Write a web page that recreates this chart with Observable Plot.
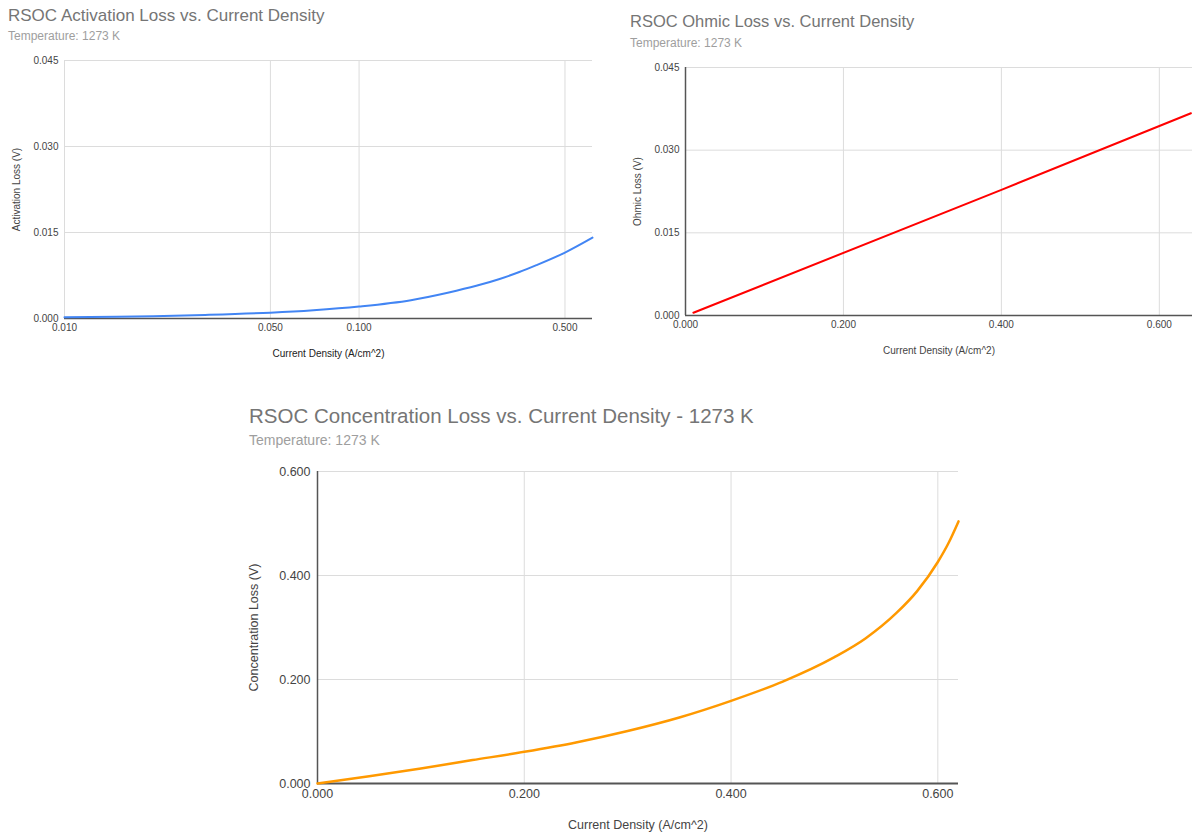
<!DOCTYPE html>
<html>
<head>
<meta charset="utf-8">
<script src="https://cdn.jsdelivr.net/npm/d3@7"></script>
<script src="https://cdn.jsdelivr.net/npm/@observablehq/plot@0.6"></script>
<style>
  body { margin: 0; background: #fff; font-family: Arial, "Liberation Sans", sans-serif; }
  #wrap { position: relative; width: 1192px; height: 834px; overflow: hidden; }
  .title { position: absolute; color: #757575; white-space: nowrap; }
  .sub { position: absolute; color: #9e9e9e; white-space: nowrap; }
  .chart { position: absolute; }
  .chart svg { overflow: visible; }
</style>
</head>
<body>
<div id="wrap">
  <div class="title" style="left:8px; top:6px; font-size:17px;">RSOC Activation Loss vs. Current Density</div>
  <div class="sub" style="left:8px; top:29px; font-size:12px;">Temperature: 1273 K</div>
  <div class="title" style="left:630px; top:12px; font-size:16.5px;">RSOC Ohmic Loss vs. Current Density</div>
  <div class="sub" style="left:630px; top:36px; font-size:12px;">Temperature: 1273 K</div>
  <div class="title" style="left:249px; top:404px; font-size:20.5px;">RSOC Concentration Loss vs. Current Density - 1273 K</div>
  <div class="sub" style="left:249px; top:432px; font-size:14px;">Temperature: 1273 K</div>
  <div class="chart" id="c1" style="left:0px; top:0px;"></div>
  <div class="chart" id="c2" style="left:620px; top:0px;"></div>
  <div class="chart" id="c3" style="left:240px; top:390px;"></div>
</div>
<script>
// Activation loss (log x)
const actX = [0.01, 0.015, 0.02, 0.03, 0.05, 0.07, 0.1, 0.15, 0.2, 0.25, 0.3, 0.35, 0.4, 0.5, 0.62];
const actY = [0.0002, 0.0003, 0.0004, 0.00062, 0.00102, 0.00145, 0.0021, 0.0032, 0.0045, 0.0057, 0.0069, 0.0081, 0.0093, 0.0115, 0.0141];
const actXTicks = [0.01, 0.05, 0.1, 0.5];
const lossTicks = [0, 0.015, 0.03, 0.045];

// Ohmic loss
const ohmX = [0.01, 0.4, 0.64];
const ohmY = [0.0005, 0.0228, 0.0367];
const ohmXTicks = [0, 0.2, 0.4, 0.6];

// Concentration loss
const concX = [0, 0.05, 0.1, 0.15, 0.2, 0.25, 0.3, 0.35, 0.4, 0.45, 0.5, 0.53, 0.56, 0.58, 0.6, 0.61, 0.62];
const concY = [0, 0.014, 0.029, 0.045, 0.061, 0.079, 0.101, 0.127, 0.159, 0.196, 0.243, 0.279, 0.328, 0.370, 0.426, 0.461, 0.504];
const concXTicks = [0, 0.2, 0.4, 0.6];
const concYTicks = [0, 0.2, 0.4, 0.6];

const xLabel = "Current Density (A/cm^2)";
const fmt = d3.format(".3f");
const GRID = "#dcdcdc";
const AXIS = "#555";
const TXT = "#444";
const FONT = "Arial, 'Liberation Sans', sans-serif";

function rows(xs, ys) { return xs.map((x, i) => ({x, y: ys[i]})); }

// Chart 1
const p1 = Plot.plot({
  width: 600, height: 370,
  marginTop: 60, marginLeft: 64, marginRight: 8, marginBottom: 52,
  style: {fontFamily: FONT, fontSize: "10px", color: TXT, background: "transparent"},
  x: {type: "log", domain: [0.01, 0.62], axis: null},
  y: {domain: [0, 0.045]},
  marks: [
    Plot.gridX(actXTicks, {stroke: GRID, strokeOpacity: 1}),
    Plot.gridY(lossTicks, {stroke: GRID, strokeOpacity: 1}),
    Plot.ruleX([0.01], {stroke: GRID}),
    Plot.ruleY([0], {stroke: AXIS, strokeWidth: 1.5}),
    Plot.text(actXTicks, {x: d => d, frameAnchor: "bottom", dy: 12, text: d => fmt(d), fontSize: 10, fill: TXT}),
    Plot.text([xLabel], {frameAnchor: "bottom", dy: 38, text: d => d, fontSize: 10, fill: "#222"}),
    Plot.axisY(lossTicks, {tickSize: 0, tickPadding: 6, tickFormat: fmt, fontSize: 10, label: "Activation Loss (V)", labelAnchor: "center", labelArrow: "none", labelOffset: 52}),
    Plot.line(rows(actX, actY), {x: "x", y: "y", stroke: "#4285f4", strokeWidth: 2, curve: "monotone-x"})
  ]
});
document.getElementById("c1").append(p1);

// Chart 2
const p2 = Plot.plot({
  width: 572, height: 370,
  marginTop: 67, marginLeft: 65, marginRight: 0, marginBottom: 55,
  style: {fontFamily: FONT, fontSize: "10px", color: TXT, background: "transparent"},
  x: {domain: [0, 0.642]},
  y: {domain: [0, 0.045]},
  marks: [
    Plot.gridX(ohmXTicks.slice(1), {stroke: GRID, strokeOpacity: 1}),
    Plot.gridY(lossTicks, {stroke: GRID, strokeOpacity: 1}),
    Plot.ruleX([0], {stroke: AXIS, strokeWidth: 1.5}),
    Plot.ruleY([0], {stroke: AXIS, strokeWidth: 1.5}),
    Plot.axisX(ohmXTicks, {tickSize: 0, tickPadding: 5, tickFormat: fmt, fontSize: 10, label: xLabel, labelAnchor: "center", labelArrow: "none", labelOffset: 38}),
    Plot.axisY(lossTicks, {tickSize: 0, tickPadding: 6, tickFormat: fmt, fontSize: 10, label: "Ohmic Loss (V)", labelAnchor: "center", labelArrow: "none", labelOffset: 52}),
    Plot.line(rows(ohmX, ohmY), {x: "x", y: "y", stroke: "#ff0000", strokeWidth: 2})
  ]
});
document.getElementById("c2").append(p2);

// Chart 3
const p3 = Plot.plot({
  width: 740, height: 444,
  marginTop: 81, marginLeft: 77, marginRight: 22, marginBottom: 51,
  style: {fontFamily: FONT, fontSize: "12.5px", color: TXT, background: "transparent"},
  x: {domain: [0, 0.62]},
  y: {domain: [0, 0.6]},
  marks: [
    Plot.gridX(concXTicks.slice(1), {stroke: GRID, strokeOpacity: 1}),
    Plot.gridY(concYTicks, {stroke: GRID, strokeOpacity: 1}),
    Plot.ruleX([0], {stroke: AXIS, strokeWidth: 1.5}),
    Plot.ruleY([0], {stroke: AXIS, strokeWidth: 2}),
    Plot.axisX(concXTicks, {tickSize: 0, tickPadding: 6, tickFormat: fmt, fontSize: 12.5, label: xLabel, labelAnchor: "center", labelArrow: "none", labelOffset: 45}),
    Plot.axisY(concYTicks, {tickSize: 0, tickPadding: 7, tickFormat: fmt, fontSize: 12.5, label: "Concentration Loss (V)", labelAnchor: "center", labelArrow: "none", labelOffset: 68}),
    Plot.line(rows(concX, concY), {x: "x", y: "y", stroke: "#ff9900", strokeWidth: 2.5, curve: "monotone-x"})
  ]
});
document.getElementById("c3").append(p3);
</script>
</body>
</html>
